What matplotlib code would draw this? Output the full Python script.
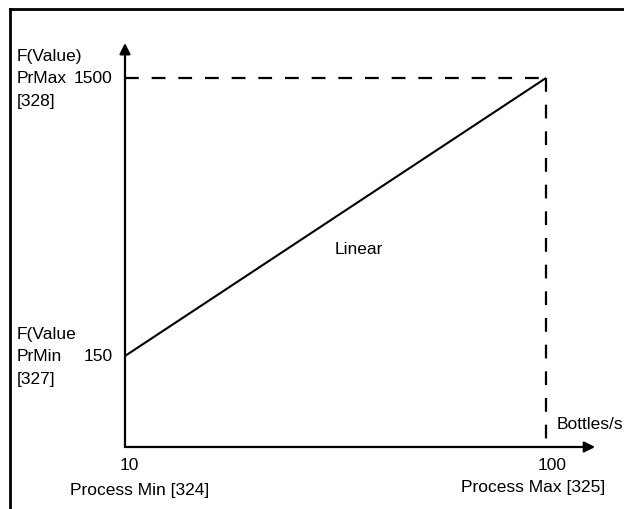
import matplotlib.pyplot as plt
from matplotlib.lines import Line2D

# data
x_vals = [10, 100]
y_vals = [150, 1500]
x_ticks = ["10", "100"]
y_ticks = ["150", "1500"]
x_names = ["Process Min [324]", "Process Max [325]"]
y_names = [["F(Value", "PrMin", "[327]"], ["F(Value)", "PrMax", "[328]"]]
curve_name = "Linear"
x_unit = "Bottles/s"

plt.rcParams['font.family'] = ['Liberation Sans', 'DejaVu Sans']

fig = plt.figure(figsize=(6.24, 5.10), dpi=100)
ax = fig.add_axes([0, 0, 1, 1])
ax.set_axis_off()
ax.set_xlim(-16.72, 116.67)
ax.set_ylim(-593.0, 1883.6)

x0 = -291.9     # where the x axis sits
x_tip = 110.5
y_tip = 1670
ap = dict(arrowstyle='-|>', mutation_scale=16, lw=1.6, color='black', shrinkA=0, shrinkB=0)
ax.annotate('', xy=(x_vals[0], y_tip), xytext=(x_vals[0], x0), arrowprops=ap)
ax.annotate('', xy=(x_tip, x0), xytext=(x_vals[0], x0), arrowprops=ap)

# linear line
ax.plot(x_vals, y_vals, color='black', lw=1.5, solid_capstyle='butt')

# dashed guides
ax.plot([x_vals[0], x_vals[1]], [y_vals[1], y_vals[1]], color='black', lw=1.6,
        dashes=(6.2, 5.8))
ax.plot([x_vals[1], x_vals[1]], [y_vals[1], x0], color='black', lw=1.6,
        dashes=(6.2, 5.8))

fs = 12.5
# y labels, one text per line
for v, t, lines in zip(y_vals, y_ticks, y_names):
    ax.text(x_vals[0] - 2.6, v, t, ha='right', va='center', fontsize=fs)
    for k, line in enumerate(lines):
        ax.text(-13.1, v + 107 * (1 - k), line, ha='left', va='center', fontsize=fs)

# x labels
ax.text(x_vals[0] + 0.85, x0 - 87, x_ticks[0], ha='center', va='center', fontsize=fs)
ax.text(x_vals[1] + 1.3, x0 - 87, x_ticks[1], ha='center', va='center', fontsize=fs)
ax.text(x_vals[0] + 3.2, x0 - 204, x_names[0], ha='center', va='center', fontsize=fs)
ax.text(x_vals[1] - 2.8, x0 - 194, x_names[1], ha='center', va='center', fontsize=fs)
ax.text(x_vals[1] + 2.35, x0 + 112, x_unit, ha='left', va='center', fontsize=fs)

ax.text(60, 674, curve_name, ha='center', va='center', fontsize=fs)

# page frame (left and top edges)
fig.add_artist(Line2D([10 / 624, 10 / 624], [0, 1 - 10 / 510], color='black', lw=2,
                      transform=fig.transFigure))
fig.add_artist(Line2D([10 / 624, 1], [1 - 10 / 510, 1 - 10 / 510], color='black', lw=2,
                      transform=fig.transFigure))

plt.savefig('out.png', dpi=100)
